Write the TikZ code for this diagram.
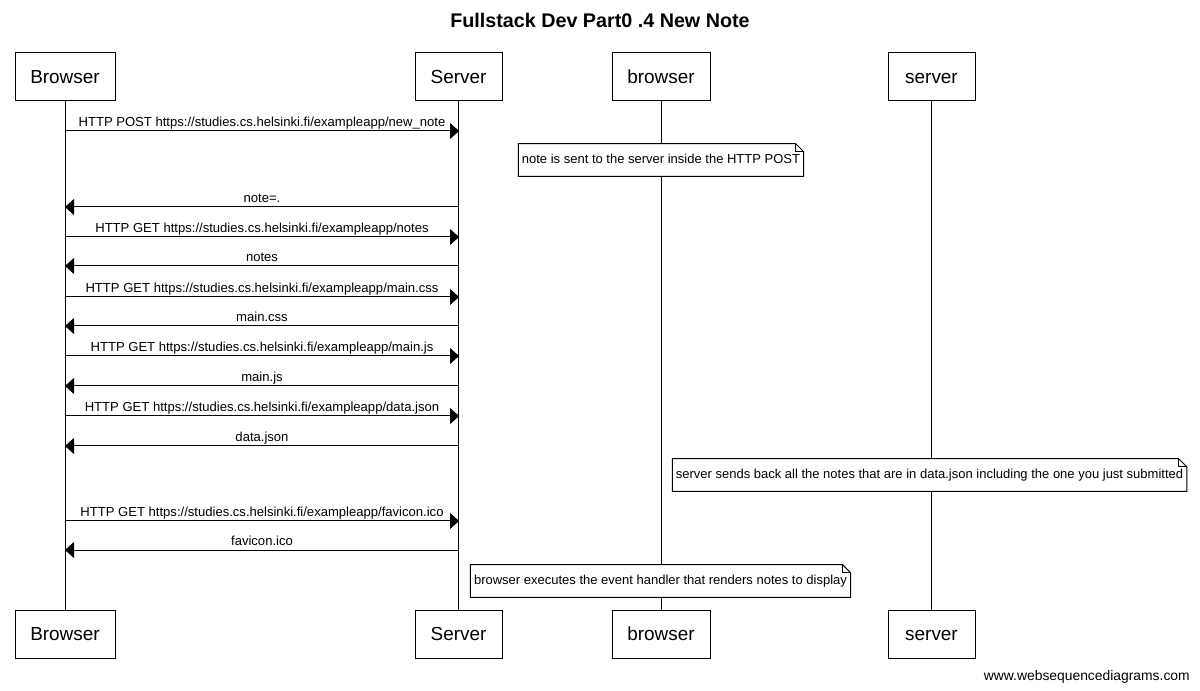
\documentclass[tikz,border=0pt]{standalone}
\usepackage{fontspec}
\setmainfont{Liberation Sans}
\usetikzlibrary{arrows.meta,calc}
\begin{document}
\begin{tikzpicture}[x=0.75pt,y=-0.75pt,
  actor/.style={draw,line width=0.75pt,fill=white,minimum height=36pt,inner sep=0pt,text height=11pt,text depth=1pt,font=\fontsize{14.2}{16}\selectfont},
  life/.style={line width=0.75pt},
  msg/.style={line width=0.75pt,-{Triangle[length=6.75pt,width=12pt]}},
  lbl/.style={anchor=base,inner sep=0pt,yshift=3pt,font=\fontsize{9.8}{11}\selectfont},
  notetext/.style={inner xsep=2.5pt,minimum height=24pt,text height=7pt,text depth=2pt,font=\fontsize{9.75}{11}\selectfont},
  notebox/.style={draw,line width=0.75pt,fill=white}
]
\useasboundingbox[fill=white] (0,0) rectangle (1200,691);
\node[font=\bfseries\fontsize{14.8}{16}\selectfont] (title) at (600,20) {Fullstack Dev Part0 .4 New Note};

% top actors
\node[actor,minimum width=75pt] (tB) at (65,77) {Browser};
\node[actor,minimum width=65.25pt] (tS) at (458.5,77) {Server};
\node[actor,minimum width=73.5pt] (tb) at (661,77) {browser};
\node[actor,minimum width=65.25pt] (ts) at (931.5,77) {server};
% bottom actors
\node[actor,minimum width=75pt] (bB) at (65,634) {Browser};
\node[actor,minimum width=65.25pt] (bS) at (458.5,634) {Server};
\node[actor,minimum width=73.5pt] (bb) at (661,634) {browser};
\node[actor,minimum width=65.25pt] (bs) at (931.5,634) {server};

% lifelines
\draw[life] (tB) -- (bB);
\draw[life] (tS) -- (bS);
\draw[life] (tb) -- (bb);
\draw[life] (ts) -- (bs);

% notes
\newcommand{\dognote}[3]{%
  \node[notetext] (#1) at #2 {#3};
  \draw[notebox] (#1.north west) -- ($(#1.north east)+(-8,0)$) -- ($(#1.north east)+(0,8)$) -- (#1.south east) -- (#1.south west) -- cycle;
  \draw[line width=0.75pt] ($(#1.north east)+(-8,0)$) -- ($(#1.north east)+(-8,8)$) -- ($(#1.north east)+(0,8)$);
  \node[notetext] at #2 {#3};
}
\dognote{n1}{(661,160)}{note is sent to the server inside the HTTP POST}
\dognote{n2}{(929.5,475)}{server sends back all the notes that are in data.json including the one you just submitted}
\dognote{n3}{(660.5,581)}{browser executes the event handler that renders notes to display}

% message coordinates
\foreach \i/\y in {1/131,2/207,3/237,4/266,5/297,6/326,7/356,8/386,9/416,10/446,11/521,12/550}{
  \coordinate (B\i) at (65,\y);
  \coordinate (S\i) at (459,\y);
}
\draw[msg] (B1) -- node[lbl]{HTTP POST https://studies.cs.helsinki.fi/exampleapp/new\_note} (S1);
\draw[msg] (S2) -- node[lbl]{note=.} (B2);
\draw[msg] (B3) -- node[lbl]{HTTP GET https://studies.cs.helsinki.fi/exampleapp/notes} (S3);
\draw[msg] (S4) -- node[lbl]{notes} (B4);
\draw[msg] (B5) -- node[lbl]{HTTP GET https://studies.cs.helsinki.fi/exampleapp/main.css} (S5);
\draw[msg] (S6) -- node[lbl]{main.css} (B6);
\draw[msg] (B7) -- node[lbl]{HTTP GET https://studies.cs.helsinki.fi/exampleapp/main.js} (S7);
\draw[msg] (S8) -- node[lbl]{main.js} (B8);
\draw[msg] (B9) -- node[lbl]{HTTP GET https://studies.cs.helsinki.fi/exampleapp/data.json} (S9);
\draw[msg] (S10) -- node[lbl]{data.json} (B10);
\draw[msg] (B11) -- node[lbl]{HTTP GET https://studies.cs.helsinki.fi/exampleapp/favicon.ico} (S11);
\draw[msg] (S12) -- node[lbl]{favicon.ico} (B12);

\node[anchor=east,inner sep=0pt,font=\fontsize{10.4}{12}\selectfont] (footer) at (1190,677) {www.websequencediagrams.com};
\end{tikzpicture}
\end{document}
